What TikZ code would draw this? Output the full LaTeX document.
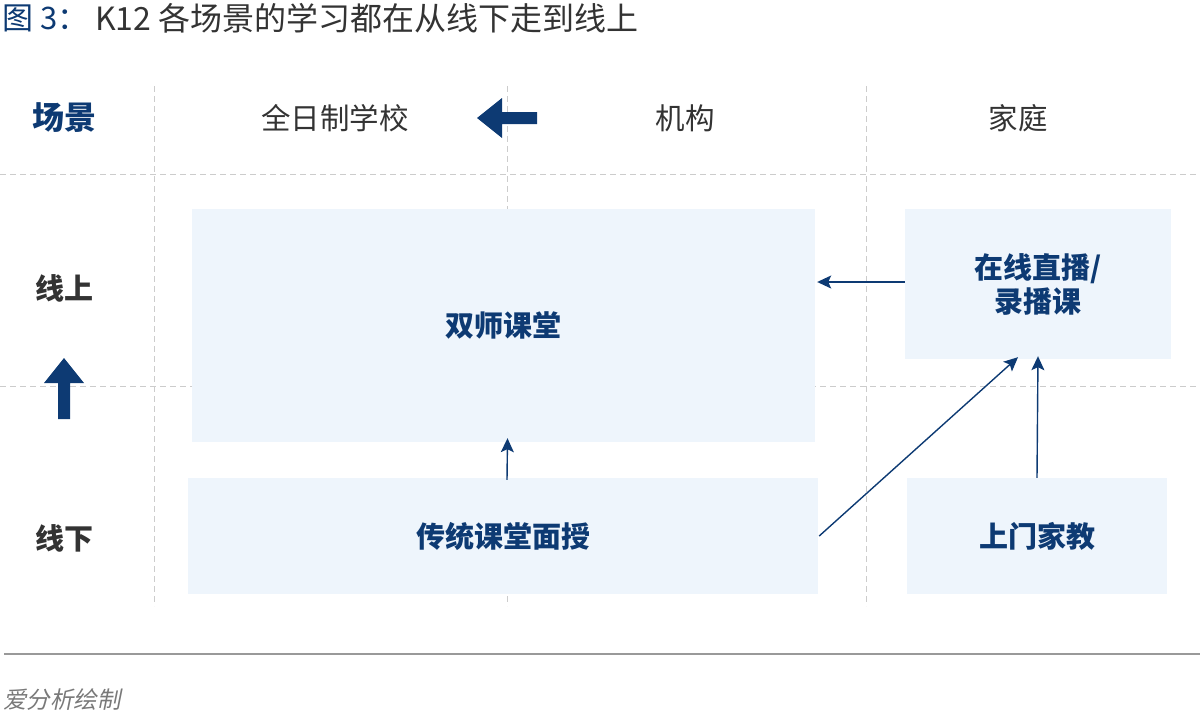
\documentclass[tikz,border=0pt]{standalone}
\usepackage{fontspec}
\setmainfont{Noto Sans CJK SC}
\newfontfamily\cjkit[FakeSlant=0.2]{Noto Sans CJK SC}
\usetikzlibrary{arrows.meta,calc}
\definecolor{dblue}{HTML}{0D3A73}
\definecolor{boxfill}{HTML}{EEF5FC}
\definecolor{txtgray}{HTML}{333333}
\definecolor{dashgray}{HTML}{CCCCCC}
\tikzset{
  gridline/.style={draw=dashgray, line width=1pt, dash pattern=on 6pt off 4pt},
  scenebox/.style={fill=boxfill, draw=none, inner sep=0pt, font=\fontsize{29}{34}\selectfont\bfseries, text=dblue, align=center},
  header/.style={font=\fontsize{29.5}{32}\selectfont, text=txtgray},
  rowlab/.style={font=\fontsize{29}{32}\selectfont\bfseries, text=txtgray},
  flow/.style={draw=dblue, line width=1.4pt, -{Stealth[length=14pt,width=13pt,inset=3pt]}},
  bigarrow/.style={fill=dblue, draw=none}
}
\begin{document}
\begin{tikzpicture}[x=1pt,y=-1pt]
\useasboundingbox (0,0) rectangle (1200,715);
% title
\node[anchor=west, inner sep=0pt, text=dblue, font=\fontsize{31}{33}\selectfont] (title1) at (2,18) {图 3：};
\node[anchor=west, inner sep=0pt, text=txtgray, font=\fontsize{32}{34}\selectfont] (title2) at (95,18) {K12 各场景的学习都在从线下走到线上};
% grid
\draw[gridline] (154,86) -- (154,606);
\draw[gridline] (507,86) -- (507,606);
\draw[gridline] (866,86) -- (866,606);
\draw[gridline] (0,174) -- (1200,174);
\draw[gridline] (0,386) -- (1200,386);
% headers
\node[header, text=dblue, font=\fontsize{32}{34}\selectfont\bfseries] (hscene) at (64,118) {场景};
\node[header] (hschool) at (335,118) {全日制学校};
\node[header] (horg) at (685,118) {机构};
\node[header] (hhome) at (1018,118) {家庭};
\node[rowlab] (ron) at (64,288) {线上};
\node[rowlab] (roff) at (64,538) {线下};
% big arrows
\fill[bigarrow] (477,118) -- (502,98) -- (502,112) -- (537,112) -- (537,124) -- (502,124) -- (502,138) -- cycle;
\fill[bigarrow] (64,358) -- (84,383) -- (70,383) -- (70,419) -- (58,419) -- (58,383) -- (44,383) -- cycle;
% boxes
\node[scenebox, minimum width=623pt, minimum height=233pt] (dual) at (503.5,325.5) {双师课堂};
\node[scenebox, minimum width=266pt, minimum height=150pt] (online) at (1038,284) {在线直播/\\录播课};
\node[scenebox, minimum width=630pt, minimum height=116pt] (trad) at (503,536) {传统课堂面授};
\node[scenebox, minimum width=260pt, minimum height=116pt] (home) at (1037,536) {上门家教};
% connectors
\coordinate (onw) at ([yshift=2pt]online.west);
\draw[flow] (onw) -- ([xshift=2pt]dual.east |- onw);
\draw[flow] ([xshift=4pt,yshift=-2pt]trad.north) -- ([xshift=4pt,yshift=4pt]dual.south);
\draw[flow] ([xshift=1pt]trad.east) -- ([xshift=-20pt,yshift=2pt]online.south);
\draw[flow] (home.north) -- ([yshift=3pt]online.south);
% footer
\draw[draw=gray!80, line width=1.2pt] (4,654) -- (1200,654);
\node[anchor=west, inner sep=0pt, text=gray!95!black, font=\fontsize{23.5}{26}\selectfont\cjkit] (src) at (3,700) {爱分析绘制};
\end{tikzpicture}
\end{document}
